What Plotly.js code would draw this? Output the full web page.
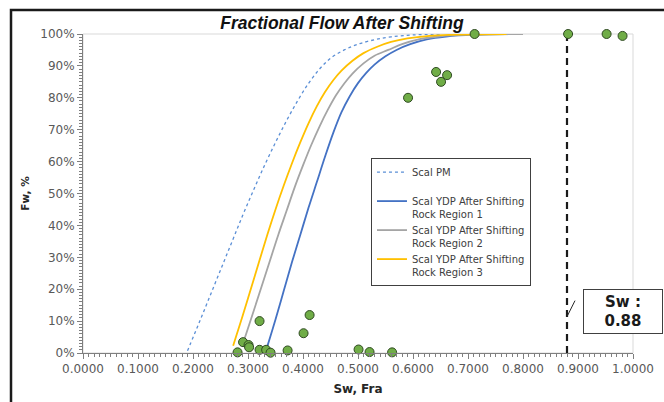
<!DOCTYPE html>
<html>
<head>
<meta charset="utf-8">
<script src="https://cdn.plot.ly/plotly-3.0.1.min.js"></script>
<style>
html,body{margin:0;padding:0;background:#fff;}
#chart{width:664px;height:402px;}
</style>
</head>
<body>
<div id="chart"></div>
<script>
// ---- data ----
const chartTitle = 'Fractional Flow After Shifting';
const xTitle = 'Sw, Fra';
const yTitle = 'Fw, %';

const pmName = 'Scal PM';
const pmSw = [0.190, 0.210, 0.230, 0.250, 0.270, 0.290, 0.310, 0.330, 0.350, 0.370, 0.390, 0.410, 0.430, 0.450, 0.475, 0.500, 0.530, 0.560, 0.600, 0.650];
const pmFw = [0.7, 9, 17.5, 26, 34.5, 43, 51, 58.8, 66, 72.8, 79, 84.5, 89, 92.4, 95.0, 96.8, 98.2, 99.1, 99.7, 100];

const r1Name = 'Scal YDP After Shifting<br>Rock Region 1';
const r1Sw = [0.335, 0.350, 0.365, 0.380, 0.395, 0.410, 0.425, 0.440, 0.455, 0.470, 0.485, 0.500, 0.515, 0.530, 0.550, 0.570, 0.595, 0.625, 0.660, 0.710, 0.780];
const r1Fw = [2.0, 10.5, 19.5, 28.5, 37, 45.5, 53.5, 61.5, 69, 75.5, 80.5, 84.6, 87.8, 90.4, 93.0, 95.0, 96.8, 98.3, 99.2, 99.8, 100];

const r2Name = 'Scal YDP After Shifting<br>Rock Region 2';
const r2Sw = [0.293, 0.310, 0.325, 0.340, 0.355, 0.370, 0.385, 0.400, 0.415, 0.430, 0.445, 0.460, 0.475, 0.490, 0.510, 0.530, 0.555, 0.580, 0.610, 0.650, 0.700, 0.800];
const r2Fw = [4.1, 13, 21, 29, 37, 44.5, 52, 58.8, 65.2, 71, 76.2, 80.8, 84.5, 87.6, 90.8, 93.2, 95.0, 96.8, 98.3, 99.3, 99.8, 100];

const r3Name = 'Scal YDP After Shifting<br>Rock Region 3';
const r3Sw = [0.273, 0.290, 0.305, 0.320, 0.335, 0.350, 0.365, 0.380, 0.395, 0.410, 0.425, 0.440, 0.455, 0.470, 0.490, 0.510, 0.535, 0.560, 0.590, 0.630, 0.680, 0.770];
const r3Fw = [2.3, 11.5, 20, 28.5, 37, 45, 52.5, 59.5, 66, 72, 77.3, 81.8, 85.5, 88.5, 91.6, 94.0, 96.0, 97.5, 98.6, 99.4, 99.8, 100];

const obsSw = [0.281, 0.291, 0.301, 0.302, 0.321, 0.321, 0.333, 0.341, 0.372, 0.401, 0.412, 0.501, 0.521, 0.562, 0.591, 0.642, 0.651, 0.662, 0.712, 0.882, 0.952, 0.981];
const obsFw = [0.2, 3.4, 2.5, 1.8, 10.0, 1.0, 1.0, 0.1, 0.8, 6.2, 11.9, 1.1, 0.3, 0.2, 80.0, 88.1, 85.0, 87.1, 100, 100, 100, 99.4];

const swCut = 0.88;
const cutFw = [0, 100];
const leaderFw = 11.4;

// ---- chart ----
const F = 'DejaVu Sans, Verdana, sans-serif';

const traces = [
  {x: pmSw, y: pmFw, name: pmName + '<br>\u00a0', mode: 'lines', line: {color: '#5b8fd6', width: 1.3, dash: 'dot', shape: 'spline'}},
  {x: r1Sw, y: r1Fw, name: r1Name, mode: 'lines', line: {color: '#4472c4', width: 1.8, shape: 'spline'}},
  {x: r2Sw, y: r2Fw, name: r2Name, mode: 'lines', line: {color: '#a5a5a5', width: 1.8, shape: 'spline'}},
  {x: r3Sw, y: r3Fw, name: r3Name, mode: 'lines', line: {color: '#ffc000', width: 1.8, shape: 'spline'}},
  {x: [swCut, swCut], y: cutFw, mode: 'lines', showlegend: false, line: {color: '#1a1a1a', width: 2.2, dash: '7px,5px'}},
  {x: obsSw, y: obsFw, mode: 'markers', showlegend: false, cliponaxis: false,
   marker: {color: '#70ad47', size: 9, line: {color: '#2f4a22', width: 1}}}
];

const axBase = {
  showgrid: false, zeroline: false, showline: true, linecolor: '#7f7f7f', linewidth: 1,
  ticks: 'outside', ticklen: 5, tickcolor: '#7f7f7f', tickwidth: 1,
  tickfont: {family: F, size: 12, color: '#595959'}
};

const layout = {
  width: 664, height: 402,
  margin: {l: 83, r: 31, t: 34, b: 49},
  paper_bgcolor: '#ffffff', plot_bgcolor: '#ffffff',
  title: {text: '<b><i>' + chartTitle + '</i></b>', x: 0.515, xanchor: 'center', y: 0.943, yanchor: 'middle', yref: 'container',
          font: {family: 'Liberation Sans, Arial, sans-serif', size: 17.5, color: '#111111'}},
  xaxis: Object.assign({}, axBase, {
    range: [0, 1], dtick: 0.1, tick0: 0, tickformat: '.4f',
    minor: {dtick: 0.01, ticks: 'outside', ticklen: 3, tickcolor: '#7f7f7f'},
    title: {text: '<b>' + xTitle + '</b>', font: {family: F, size: 12, color: '#262626'}, standoff: 9}
  }),
  yaxis: Object.assign({}, axBase, {
    range: [0, 100], dtick: 10, tick0: 0, ticksuffix: '%',
    minor: {dtick: 1, ticks: 'outside', ticklen: 3, tickcolor: '#7f7f7f'},
    title: {text: '<b>' + yTitle + '</b>', font: {family: F, size: 10.5, color: '#262626'}, standoff: 8}
  }),
  xaxis2: {overlaying: 'x', anchor: 'y', range: [0, 1], dtick: 0.1, tick0: 0, ticks: 'inside', ticklen: 5,
           tickcolor: '#7f7f7f', showticklabels: false, showgrid: false, zeroline: false, showline: false},
  yaxis2: {overlaying: 'y', anchor: 'x', side: 'left', range: [0, 100], dtick: 10, tick0: 0, ticks: 'inside', ticklen: 5,
           tickcolor: '#7f7f7f', showticklabels: false, showgrid: false, zeroline: false, showline: false},
  showlegend: true,
  legend: {
    x: 0.5236, y: 0.611, xanchor: 'left', yanchor: 'top',
    bgcolor: '#ffffff', bordercolor: '#404040', borderwidth: 1,
    font: {family: F, size: 10, color: '#404040'},
    valign: 'top', traceorder: 'normal', itemwidth: 30
  },
  shapes: [
    {type: 'rect', xref: 'paper', yref: 'paper', x0: 0, x1: 1, y0: 0, y1: 1, line: {color: '#d9d9d9', width: 1}, layer: 'below'},
    {type: 'rect', xref: 'paper', yref: 'paper', x0: -0.1309, x1: 1.08, y0: -0.25, y1: 1.0752, line: {color: '#1a1a1a', width: 2.5}}
  ],
  annotations: [
    {xref: 'paper', yref: 'paper', x: 0.9818, y: 0.130, xanchor: 'center', yanchor: 'middle',
     text: '<b>Sw :<br>' + swCut.toFixed(2) + '</b>', showarrow: false, align: 'center',
     width: 78, height: 43, bgcolor: '#ffffff', bordercolor: '#404040', borderwidth: 1, borderpad: 0,
     font: {family: F, size: 15, color: '#1a1a1a'}},
    {x: swCut, y: leaderFw, xref: 'x', yref: 'y', text: ' ', showarrow: true, arrowhead: 0, arrowwidth: 1,
     arrowcolor: '#262626', ax: 9, ay: -18, font: {size: 1}}
  ]
};

Plotly.newPlot('chart', traces, layout, {staticPlot: true, displayModeBar: false});
</script>
</body>
</html>
